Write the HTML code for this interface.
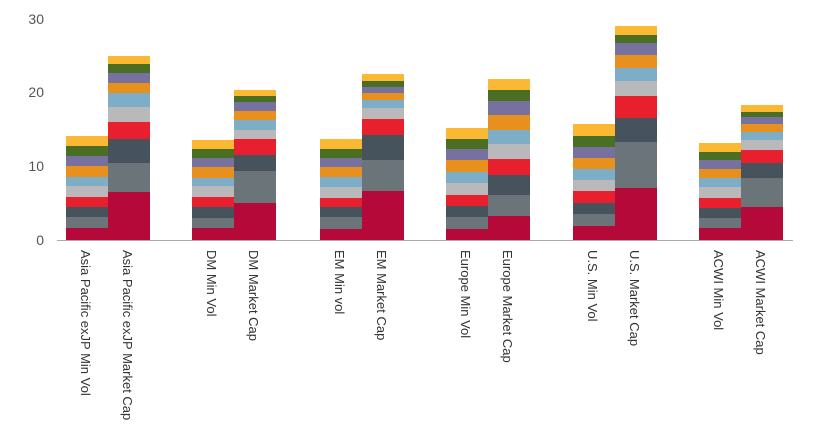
<!DOCTYPE html>
<html><head><meta charset="utf-8"><style>body{margin:0;background:#fff}svg{display:block}
.c0{fill:#b5093a}.c1{fill:#6b7479}.c2{fill:#46535d}.c3{fill:#e8202e}.c4{fill:#b9b9bc}.c5{fill:#7eaec7}.c6{fill:#e8901e}.c7{fill:#77719f}.c8{fill:#4a6e22}.c9{fill:#fbb832}
</style></head>
<body>
<svg width="820" height="434" xmlns="http://www.w3.org/2000/svg" font-family="Liberation Sans, sans-serif">
<g font-size="14" fill="#555" text-anchor="end">
<text x="44" y="245">0</text><text x="44" y="171">10</text><text x="44" y="97">20</text><text x="44" y="24">30</text>
</g>
<g transform="translate(66,0)"><rect class="c0" y="228" width="42" height="12"/><rect class="c1" y="217" width="42" height="11"/><rect class="c2" y="207" width="42" height="10"/><rect class="c3" y="197" width="42" height="10"/><rect class="c4" y="186" width="42" height="11"/><rect class="c5" y="177" width="42" height="9"/><rect class="c6" y="166" width="42" height="11"/><rect class="c7" y="156" width="42" height="10"/><rect class="c8" y="146" width="42" height="10"/><rect class="c9" y="136" width="42" height="10"/></g>
<g transform="translate(108,0)"><rect class="c0" y="192" width="42" height="48"/><rect class="c1" y="163" width="42" height="29"/><rect class="c2" y="139" width="42" height="24"/><rect class="c3" y="122" width="42" height="17"/><rect class="c4" y="107" width="42" height="15"/><rect class="c5" y="93" width="42" height="14"/><rect class="c6" y="83" width="42" height="10"/><rect class="c7" y="73" width="42" height="10"/><rect class="c8" y="64" width="42" height="9"/><rect class="c9" y="56" width="42" height="8"/></g>
<g transform="translate(192,0)"><rect class="c0" y="228" width="42" height="12"/><rect class="c1" y="218" width="42" height="10"/><rect class="c2" y="207" width="42" height="11"/><rect class="c3" y="197" width="42" height="10"/><rect class="c4" y="186" width="42" height="11"/><rect class="c5" y="178" width="42" height="8"/><rect class="c6" y="167" width="42" height="11"/><rect class="c7" y="158" width="42" height="9"/><rect class="c8" y="149" width="42" height="9"/><rect class="c9" y="140" width="42" height="9"/></g>
<g transform="translate(234,0)"><rect class="c0" y="203" width="42" height="37"/><rect class="c1" y="171" width="42" height="32"/><rect class="c2" y="155" width="42" height="16"/><rect class="c3" y="139" width="42" height="16"/><rect class="c4" y="130" width="42" height="9"/><rect class="c5" y="120" width="42" height="10"/><rect class="c6" y="111" width="42" height="9"/><rect class="c7" y="102" width="42" height="9"/><rect class="c8" y="96" width="42" height="6"/><rect class="c9" y="90" width="42" height="6"/></g>
<g transform="translate(320,0)"><rect class="c0" y="229" width="42" height="11"/><rect class="c1" y="217" width="42" height="12"/><rect class="c2" y="207" width="42" height="10"/><rect class="c3" y="198" width="42" height="9"/><rect class="c4" y="187" width="42" height="11"/><rect class="c5" y="177" width="42" height="10"/><rect class="c6" y="167" width="42" height="10"/><rect class="c7" y="158" width="42" height="9"/><rect class="c8" y="149" width="42" height="9"/><rect class="c9" y="139" width="42" height="10"/></g>
<g transform="translate(362,0)"><rect class="c0" y="191" width="42" height="49"/><rect class="c1" y="160" width="42" height="31"/><rect class="c2" y="135" width="42" height="25"/><rect class="c3" y="119" width="42" height="16"/><rect class="c4" y="108" width="42" height="11"/><rect class="c5" y="100" width="42" height="8"/><rect class="c6" y="93" width="42" height="7"/><rect class="c7" y="87" width="42" height="6"/><rect class="c8" y="81" width="42" height="6"/><rect class="c9" y="74" width="42" height="7"/></g>
<g transform="translate(446,0)"><rect class="c0" y="229" width="42" height="11"/><rect class="c1" y="217" width="42" height="12"/><rect class="c2" y="206" width="42" height="11"/><rect class="c3" y="195" width="42" height="11"/><rect class="c4" y="183" width="42" height="12"/><rect class="c5" y="172" width="42" height="11"/><rect class="c6" y="160" width="42" height="12"/><rect class="c7" y="149" width="42" height="11"/><rect class="c8" y="139" width="42" height="10"/><rect class="c9" y="128" width="42" height="11"/></g>
<g transform="translate(488,0)"><rect class="c0" y="216" width="42" height="24"/><rect class="c1" y="195" width="42" height="21"/><rect class="c2" y="175" width="42" height="20"/><rect class="c3" y="159" width="42" height="16"/><rect class="c4" y="144" width="42" height="15"/><rect class="c5" y="130" width="42" height="14"/><rect class="c6" y="115" width="42" height="15"/><rect class="c7" y="101" width="42" height="14"/><rect class="c8" y="90" width="42" height="11"/><rect class="c9" y="79" width="42" height="11"/></g>
<g transform="translate(573,0)"><rect class="c0" y="226" width="42" height="14"/><rect class="c1" y="214" width="42" height="12"/><rect class="c2" y="203" width="42" height="11"/><rect class="c3" y="191" width="42" height="12"/><rect class="c4" y="180" width="42" height="11"/><rect class="c5" y="169" width="42" height="11"/><rect class="c6" y="158" width="42" height="11"/><rect class="c7" y="147" width="42" height="11"/><rect class="c8" y="136" width="42" height="11"/><rect class="c9" y="124" width="42" height="12"/></g>
<g transform="translate(615,0)"><rect class="c0" y="188" width="42" height="52"/><rect class="c1" y="142" width="42" height="46"/><rect class="c2" y="118" width="42" height="24"/><rect class="c3" y="96" width="42" height="22"/><rect class="c4" y="81" width="42" height="15"/><rect class="c5" y="68" width="42" height="13"/><rect class="c6" y="55" width="42" height="13"/><rect class="c7" y="43" width="42" height="12"/><rect class="c8" y="35" width="42" height="8"/><rect class="c9" y="26" width="42" height="9"/></g>
<g transform="translate(699,0)"><rect class="c0" y="228" width="42" height="12"/><rect class="c1" y="218" width="42" height="10"/><rect class="c2" y="208" width="42" height="10"/><rect class="c3" y="198" width="42" height="10"/><rect class="c4" y="187" width="42" height="11"/><rect class="c5" y="178" width="42" height="9"/><rect class="c6" y="169" width="42" height="9"/><rect class="c7" y="160" width="42" height="9"/><rect class="c8" y="152" width="42" height="8"/><rect class="c9" y="143" width="42" height="9"/></g>
<g transform="translate(741,0)"><rect class="c0" y="207" width="42" height="33"/><rect class="c1" y="178" width="42" height="29"/><rect class="c2" y="163" width="42" height="15"/><rect class="c3" y="150" width="42" height="13"/><rect class="c4" y="140" width="42" height="10"/><rect class="c5" y="132" width="42" height="8"/><rect class="c6" y="124" width="42" height="8"/><rect class="c7" y="117" width="42" height="7"/><rect class="c8" y="112" width="42" height="5"/><rect class="c9" y="105" width="42" height="7"/></g>
<line x1="57" y1="240.5" x2="793" y2="240.5" stroke="#aaa" stroke-width="1"/>
<g font-size="13" fill="#333">
<text transform="translate(81,250) rotate(90)">Asia Pacific exJP Min Vol</text>
<text transform="translate(123,250) rotate(90)">Asia Pacific exJP Market Cap</text>
<text transform="translate(207,250) rotate(90)">DM Min Vol</text>
<text transform="translate(249,250) rotate(90)">DM Market Cap</text>
<text transform="translate(335,250) rotate(90)">EM Min vol</text>
<text transform="translate(377,250) rotate(90)">EM Market Cap</text>
<text transform="translate(461,250) rotate(90)">Europe Min Vol</text>
<text transform="translate(503,250) rotate(90)">Europe Market Cap</text>
<text transform="translate(588,250) rotate(90)">U.S. Min Vol</text>
<text transform="translate(630,250) rotate(90)">U.S. Market Cap</text>
<text transform="translate(714,250) rotate(90)">ACWI Min Vol</text>
<text transform="translate(756,250) rotate(90)">ACWI Market Cap</text>
</g>
</svg>
</body></html>
